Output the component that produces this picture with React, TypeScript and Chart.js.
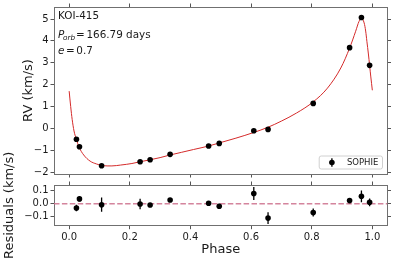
import React, { useEffect, useRef } from "react";
import { Chart, registerables } from "chart.js";
Chart.register(...registerables);

// ---- data ----
const PHASE = [0.024, 0.034, 0.107, 0.234, 0.267, 0.333, 0.460, 0.495, 0.609, 0.656, 0.805, 0.925, 0.964, 0.991];
const RV = [-0.50, -0.84, -1.71, -1.53, -1.44, -1.19, -0.81, -0.69, -0.11, -0.05, 1.14, 3.69, 5.07, 2.88];
const RESID = [-0.033, 0.036, -0.008, -0.003, -0.010, 0.028, 0.003, -0.020, 0.077, -0.110, -0.067, 0.023, 0.056, 0.010];
const ERR = [0.025, 0.02, 0.054, 0.04, 0.015, 0.015, 0.015, 0.02, 0.05, 0.045, 0.03, 0.015, 0.045, 0.03];

const CURVE_PHASE = [0, 0.005, 0.010, 0.016, 0.023, 0.033, 0.048, 0.069, 0.09, 0.106, 0.125, 0.141, 0.17, 0.207, 0.234, 0.267, 0.30, 0.333, 0.37, 0.41, 0.46, 0.495, 0.55, 0.609, 0.656, 0.70, 0.75, 0.805, 0.852, 0.896, 0.925, 0.945, 0.956, 0.964, 0.973, 0.978, 0.982, 0.987, 0.991, 0.995, 1.0];
const CURVE_RV = [1.70, 1.00, 0.40, -0.12, -0.47, -0.87, -1.22, -1.50, -1.63, -1.69, -1.72, -1.72, -1.68, -1.61, -1.53, -1.44, -1.34, -1.22, -1.10, -0.97, -0.81, -0.67, -0.45, -0.19, 0.05, 0.33, 0.70, 1.21, 1.84, 2.76, 3.67, 4.44, 4.89, 5.04, 4.82, 4.45, 3.98, 3.40, 2.88, 2.35, 1.74];

const X_TICKS = [0, 0.2, 0.4, 0.6, 0.8, 1.0];
const RV_TICKS = [-2, -1, 0, 1, 2, 3, 4, 5];
const RES_TICKS = [-0.1, 0, 0.1];

const X_MIN = -0.05, X_MAX = 1.05;
const RV_MIN = -2.09, RV_MAX = 5.55;
const RES_MIN = -0.168, RES_MAX = 0.142;

const TITLE = "KOI-415";
const PERIOD = "166.79 days";
const ECC = "0.7";
const LEGEND_LABEL = "SOPHIE";

// ---- styles ----
const FONT = "'DejaVu Sans', 'Liberation Sans', sans-serif";
const BORDER = "#707070";
const TICKC = "#555";
const TEXT = "#1a1a1a";
const RED = "#d42a2a";
const ZERO = "rgba(205,110,140,0.85)";

const W = 395, H = 264;

function fixSize(kind: "w" | "h", v: number) {
  return (s: any) => {
    if (kind === "w") s.width = v; else s.height = v;
    s.paddingTop = 0; s.paddingBottom = 0; s.paddingLeft = 0; s.paddingRight = 0;
  };
}
const setTicks = (vals: number[]) => (s: any) => { s.ticks = vals.map((v) => ({ value: v })); };
const minus = (s: string) => s.replace("-", "\u2212");

function gridOpts() {
  return { display: true, drawOnChartArea: false, drawTicks: true, tickLength: 3.5, tickColor: TICKC, tickWidth: 1, color: TICKC };
}
function borderOpts() {
  return { display: true, color: BORDER, width: 1 };
}

function errBars(ys: number[], zeroLine: boolean) {
  return {
    id: "errbars",
    beforeDatasetsDraw(chart: any) {
      const { ctx, chartArea: a } = chart;
      const xs = chart.scales.x, yv = chart.scales.y;
      ctx.save();
      ctx.beginPath();
      ctx.rect(a.left, a.top, a.right - a.left, a.bottom - a.top);
      ctx.clip();
      if (zeroLine) {
        const y0 = yv.getPixelForValue(0);
        ctx.strokeStyle = ZERO;
        ctx.lineWidth = 1.5;
        ctx.setLineDash([5.5, 2.4]);
        ctx.beginPath();
        ctx.moveTo(a.left, y0);
        ctx.lineTo(a.right, y0);
        ctx.stroke();
        ctx.setLineDash([]);
      }
      ctx.strokeStyle = "#000";
      ctx.lineWidth = 1.3;
      PHASE.forEach((p, i) => {
        const px = xs.getPixelForValue(p);
        ctx.beginPath();
        ctx.moveTo(px, yv.getPixelForValue(ys[i] - ERR[i]));
        ctx.lineTo(px, yv.getPixelForValue(ys[i] + ERR[i]));
        ctx.stroke();
      });
      ctx.restore();
    },
  };
}

const annotations = {
  id: "annot",
  afterDraw(chart: any) {
    const { ctx, chartArea: a } = chart;
    ctx.save();
    ctx.fillStyle = TEXT;
    ctx.textBaseline = "alphabetic";
    ctx.textAlign = "left";
    const x0 = a.left + 4;
    const reg = `10.4px ${FONT}`;
    const ita = `italic 10.4px ${FONT}`;
    const sub = `italic 7.3px ${FONT}`;
    const gap = 1.6;
    ctx.font = reg;
    ctx.fillText(TITLE, x0, a.top + 12.3);
    // line 2
    let x = x0;
    const b2 = a.top + 30.7;
    ctx.font = ita; ctx.fillText("P", x, b2); x += ctx.measureText("P").width - 1.2;
    ctx.font = sub; ctx.fillText("orb", x, b2 + 2.2); x += ctx.measureText("orb").width + gap * 0.6;
    ctx.font = reg; ctx.fillText("=", x, b2); x += ctx.measureText("=").width + gap;
    ctx.fillText(PERIOD, x, b2);
    // line 3
    x = x0;
    const b3 = a.top + 47;
    ctx.font = ita; ctx.fillText("e", x, b3); x += ctx.measureText("e").width + gap;
    ctx.font = reg; ctx.fillText("=", x, b3); x += ctx.measureText("=").width + gap;
    ctx.fillText(ECC, x, b3);

    // legend (lower right)
    const lw = 63.3, lh = 13;
    const lx = a.right - 5 - lw, ly = a.bottom - 5 - lh;
    ctx.beginPath();
    const r = 2;
    ctx.moveTo(lx + r, ly);
    ctx.arcTo(lx + lw, ly, lx + lw, ly + lh, r);
    ctx.arcTo(lx + lw, ly + lh, lx, ly + lh, r);
    ctx.arcTo(lx, ly + lh, lx, ly, r);
    ctx.arcTo(lx, ly, lx + lw, ly, r);
    ctx.closePath();
    ctx.fillStyle = "rgba(255,255,255,0.85)";
    ctx.fill();
    ctx.strokeStyle = "#d0d0d0";
    ctx.lineWidth = 1;
    ctx.stroke();
    const my = ly + lh / 2;
    const mx = lx + 12.7;
    ctx.strokeStyle = "#000";
    ctx.lineWidth = 1.3;
    ctx.beginPath(); ctx.moveTo(mx, my - 4.3); ctx.lineTo(mx, my + 4.3); ctx.stroke();
    ctx.fillStyle = "#000";
    ctx.beginPath(); ctx.arc(mx, my, 2.8, 0, Math.PI * 2); ctx.fill();
    ctx.fillStyle = TEXT;
    ctx.font = `8.5px ${FONT}`;
    ctx.textBaseline = "middle";
    ctx.fillText(LEGEND_LABEL, lx + 27.7, my + 0.5);
    ctx.restore();
  },
};

const residTitle = {
  id: "residTitle",
  afterDraw(chart: any) {
    const { ctx, chartArea: a } = chart;
    ctx.save();
    ctx.translate(9.7, (a.top + a.bottom) / 2);
    ctx.rotate(-Math.PI / 2);
    ctx.font = `13px ${FONT}`;
    ctx.fillStyle = TEXT;
    ctx.textAlign = "center";
    ctx.textBaseline = "middle";
    ctx.fillText("Residuals (km/s)", 0, 0);
    ctx.restore();
  },
};

export default function App() {
  const topRef = useRef<HTMLCanvasElement>(null);
  const botRef = useRef<HTMLCanvasElement>(null);

  useEffect(() => {
    const tickFont = { family: FONT, size: 10 };
    const c1 = new Chart(topRef.current!, {
      type: "scatter",
      data: {
        datasets: [
          {
            label: LEGEND_LABEL,
            data: PHASE.map((p, i) => ({ x: p, y: RV[i] })),
            backgroundColor: "#000",
            borderColor: "#000",
            pointRadius: 2.8,
            pointBorderWidth: 0,
            showLine: false,
          },
          {
            label: "model",
            data: CURVE_PHASE.map((p, i) => ({ x: p, y: CURVE_RV[i] })),
            borderColor: RED,
            borderWidth: 1,
            pointRadius: 0,
            showLine: true,
            cubicInterpolationMode: "monotone",
            fill: false,
          } as any,
        ],
      },
      options: {
        animation: false,
        responsive: false,
        devicePixelRatio: 1,
        layout: { padding: { left: 0, right: 0, top: 0, bottom: H - 180 } },
        plugins: { legend: { display: false }, tooltip: { enabled: false } },
        events: [],
        scales: {
          x: {
            type: "linear", position: "bottom", min: X_MIN, max: X_MAX,
            afterBuildTicks: setTicks(X_TICKS), ticks: { display: false },
            grid: gridOpts(), border: borderOpts(), afterFit: fixSize("h", 6),
          },
          x2: {
            type: "linear", position: "top", min: X_MIN, max: X_MAX,
            afterBuildTicks: setTicks(X_TICKS), ticks: { display: false },
            grid: gridOpts(), border: borderOpts(), afterFit: fixSize("h", 7),
          },
          y: {
            type: "linear", position: "left", min: RV_MIN, max: RV_MAX,
            afterBuildTicks: setTicks(RV_TICKS),
            ticks: { font: tickFont, color: TEXT, padding: 2, callback: (v: any) => minus(String(v)) },
            grid: gridOpts(), border: borderOpts(),
            title: { display: true, text: "RV (km/s)", color: TEXT, font: { family: FONT, size: 13 }, padding: { top: 20.5, bottom: 0 } },
            afterFit: fixSize("w", 54),
          },
          y2: {
            type: "linear", position: "right", min: RV_MIN, max: RV_MAX,
            afterBuildTicks: setTicks(RV_TICKS), ticks: { display: false },
            grid: gridOpts(), border: borderOpts(), afterFit: fixSize("w", 7.5),
          },
        } as any,
      },
      plugins: [errBars(RV, false), annotations],
    });

    const c2 = new Chart(botRef.current!, {
      type: "scatter",
      data: {
        datasets: [
          {
            label: "resid",
            data: PHASE.map((p, i) => ({ x: p, y: RESID[i] })),
            backgroundColor: "#000",
            borderColor: "#000",
            pointRadius: 2.8,
            pointBorderWidth: 0,
          },
        ],
      },
      options: {
        animation: false,
        responsive: false,
        devicePixelRatio: 1,
        layout: { padding: 0 },
        plugins: { legend: { display: false }, tooltip: { enabled: false } },
        events: [],
        scales: {
          x: {
            type: "linear", position: "bottom", min: X_MIN, max: X_MAX,
            afterBuildTicks: setTicks(X_TICKS),
            ticks: { font: tickFont, color: TEXT, padding: 2, maxRotation: 0, callback: (v: any) => Number(v).toFixed(1) },
            grid: gridOpts(), border: borderOpts(),
            title: { display: true, text: "Phase", color: TEXT, font: { family: FONT, size: 13 }, padding: { top: 0, bottom: 6.2 } },
            afterFit: fixSize("h", 38.3),
          },
          x2: {
            type: "linear", position: "top", min: X_MIN, max: X_MAX,
            afterBuildTicks: setTicks(X_TICKS), ticks: { display: false },
            grid: gridOpts(), border: borderOpts(), afterFit: fixSize("h", 185),
          },
          y: {
            type: "linear", position: "left", min: RES_MIN, max: RES_MAX,
            afterBuildTicks: setTicks(RES_TICKS),
            ticks: { font: tickFont, color: TEXT, padding: 2, callback: (v: any) => minus(Number(v).toFixed(1)) },
            grid: gridOpts(), border: borderOpts(),
            afterFit: fixSize("w", 54),
          },
          y2: {
            type: "linear", position: "right", min: RES_MIN, max: RES_MAX,
            afterBuildTicks: setTicks(RES_TICKS), ticks: { display: false },
            grid: gridOpts(), border: borderOpts(), afterFit: fixSize("w", 7.5),
          },
        } as any,
      },
      plugins: [errBars(RESID, true), residTitle],
    });

    return () => { c1.destroy(); c2.destroy(); };
  }, []);

  const cs: React.CSSProperties = { position: "absolute", left: 0, top: 0, width: W, height: H };
  return (
    <div style={{ position: "absolute", left: 0, top: 0, width: W, height: H, background: "#fff" }}>
      <canvas ref={topRef} width={W} height={H} style={cs} />
      <canvas ref={botRef} width={W} height={H} style={cs} />
    </div>
  );
}
